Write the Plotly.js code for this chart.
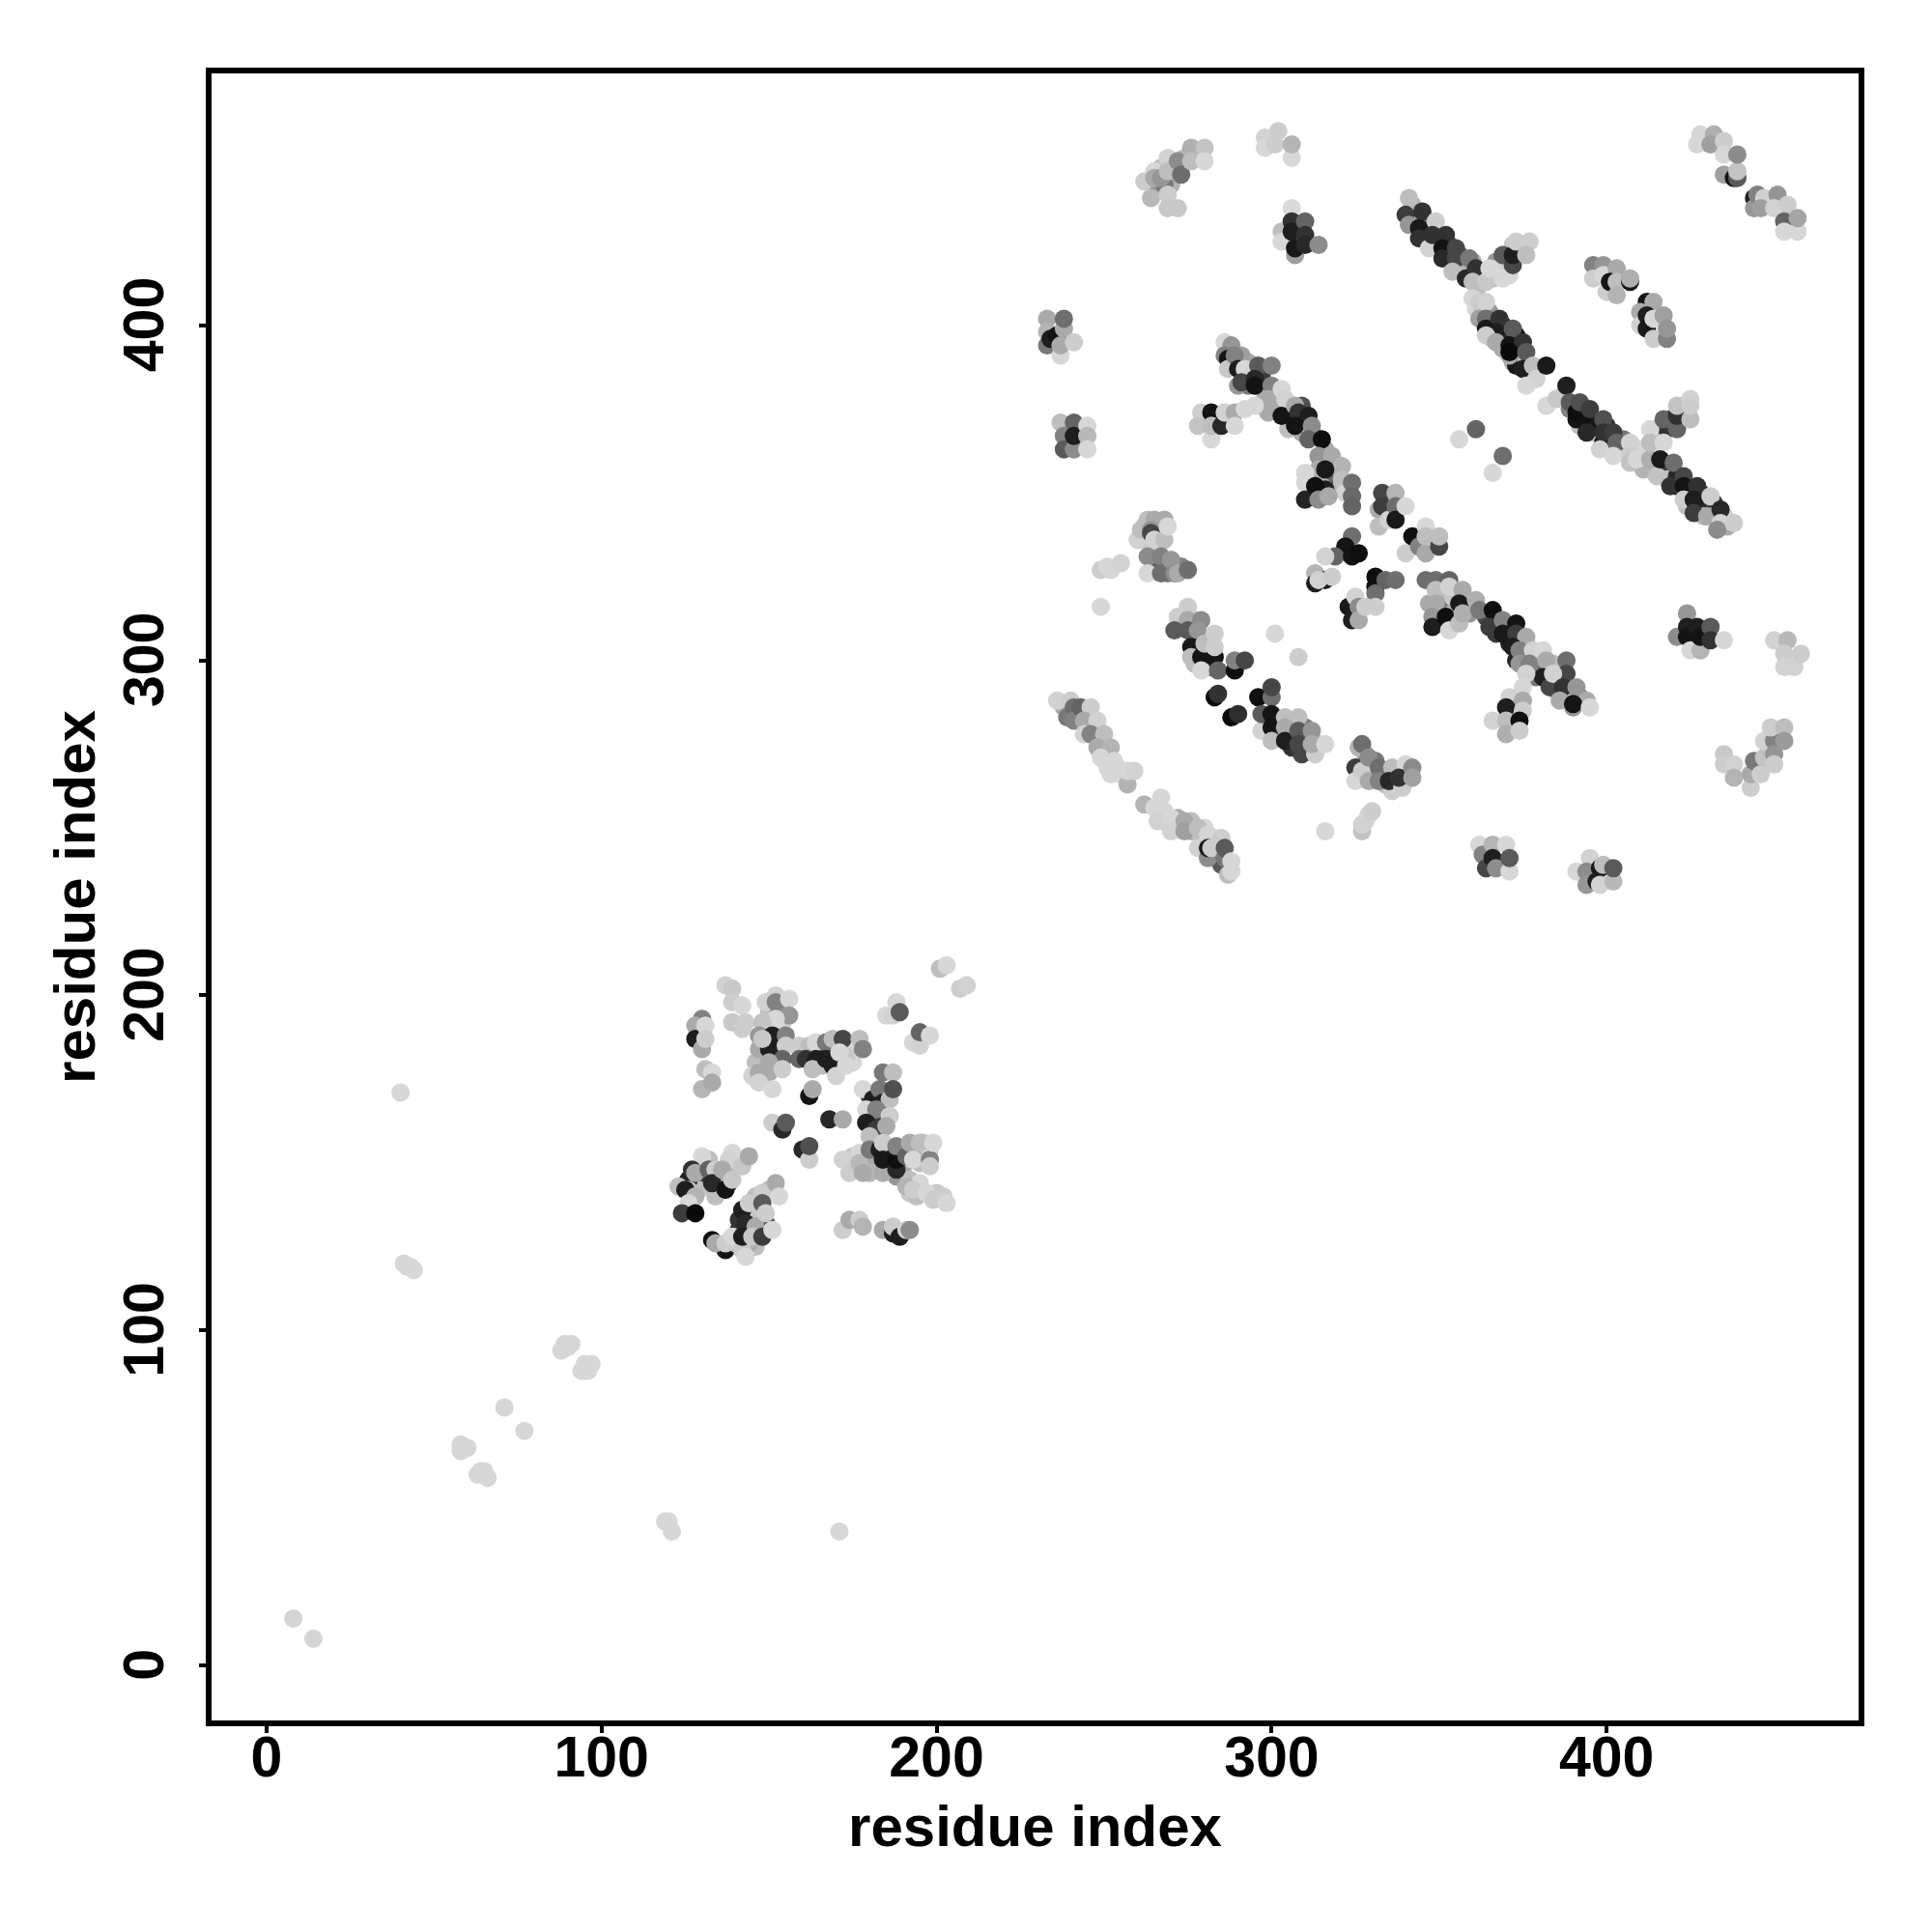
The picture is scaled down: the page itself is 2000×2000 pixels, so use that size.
<!DOCTYPE html>
<html><head><meta charset="utf-8">
<script src="https://cdn.plot.ly/plotly-3.0.1.min.js"></script>
<style>html,body{margin:0;padding:0;background:#fff}</style></head><body>
<div id="chart" style="width:2000px;height:2000px"></div>
<script>
// each contact: [residue x, residue y, shade level]
const under1=[[342,436,180],[343,432,170],[346,431,120],[346,428,170],[349,428,160],[350,425,120],[349,424,190],[353,424,100],[353,421,170],[356,421,90],[357,418,120],[360,419,170],[357,416,180],[361,414,90],[363,416,190],[362,412,190],[366,414,190],[366,416,215],[367,419,150],[370,417,120],[370,420,100],[368,417,210],[371,415,215],[374,422,180],[374,424,210],[372,424,200]];
const under2=[[361,405,215],[363,404,190],[365,404,150],[366,400,60],[366,396,180],[369,400,30],[369,396,25],[370,398,40],[373,397,20],[373,393,15],[369,393,170],[374,392,60],[372,389,180],[373,388,25],[376,389,200],[379,386,215],[377,385,215]];
const under3=[[387,379,190],[389,375,130],[393,374,60],[392,370,190],[396,372,30],[393,372,15],[396,368,190],[397,370,25],[400,370,40],[401,365,30],[403,363,190],[405,366,120],[405,362,210],[410,363,215],[411,357,180],[414,358,180],[414,362,215],[418,357,60],[418,354,190],[421,355,40],[421,352,30],[425,350,30],[424,346,190],[428,350,50],[428,346,40],[429,343,190],[432,347,60],[432,343,200],[435,343,190],[436,340,170],[436,342,210],[415,369,190],[418,369,50],[419,372,70],[423,373,60],[423,376,190]];
const underF=[[288,388,190],[292,385,150],[293,389,170],[293,382,120],[297,385,60],[298,380,170],[297,376,180],[301,379,100],[302,376,170],[305,372,20],[309,376,80],[305,369,190],[309,371,30],[312,368,90],[309,368,170],[316,363,170],[315,359,140],[319,358,190],[319,354,170],[317,352,180],[322,351,190],[316,354,100],[312,352,160],[315,352,180],[312,349,170],[316,351,30]];
const underO=[[351,320,170],[351,316,120],[351,311,30],[354,319,200],[354,314,180],[347,317,170],[358,317,190],[359,314,150],[364,313,70],[367,311,30],[367,308,60],[371,309,35],[371,305,30],[373,305,60],[375,302,120],[376,305,200],[376,300,170],[379,300,170],[380,298,190],[382,297,100],[379,295,120],[384,299,190],[385,294,60],[383,294,40],[388,290,120],[389,289,190],[392,289,120],[385,291,170]];
const underMid=[[301,282,190],[302,278,170],[306,281,130],[306,278,100],[306,274,50],[310,280,120],[310,274,60],[314,275,190],[310,277,170],[277,312,190],[277,307,100],[274,310,180],[281,306,190],[278,305,30],[281,302,25],[282,298,60],[277,299,190],[328,272,170],[328,269,120],[331,266,90],[334,266,190],[334,263,190],[337,263,190],[337,267,60],[340,264,190],[328,266,210],[331,270,120]];
const underLow=[[238,286,170],[239,283,120],[243,284,80],[246,282,120],[247,280,200],[250,275,170],[251,272,215],[251,268,215],[254,268,215],[255,266,215],[253,267,210],[268,255,215],[268,252,210],[272,250,180],[272,253,170],[276,249,170],[276,252,190],[279,247,190],[280,250,215],[283,247,215],[283,243,50],[283,241,170],[285,239,90],[285,243,40],[267,447,190],[270,442,180],[271,447,150],[274,450,190],[266,441,150],[268,442,120],[262,340,180],[262,336,200],[263,342,190],[266,338,190],[266,333,190],[266,328,100],[269,329,100],[269,326,120],[273,328,130],[265,328,100]];
const underSmall=[[130,147,60],[131,144,50],[135,143,30],[135,146,60],[138,144,50],[129,142,190],[137,147,170],[140,149,190],[132,151,190],[126,145,30],[126,142,190],[134,140,190],[137,124,20],[141,130,40],[141,133,50],[144,134,40],[145,136,200],[146,140,190],[150,142,190],[149,132,60],[146,125,190],[140,126,190],[144,126,170],[129,189,200],[130,186,170],[150,195,190],[153,196,150],[154,192,210],[149,190,190],[152,185,30],[153,183,80],[149,186,40],[148,180,170],[149,178,190],[146,180,190],[145,176,210]];
const underBand=[[160,183,70],[163,183,60],[166,183,60],[168,184,40],[170,185,60],[165,180,190],[171,180,60],[170,182,30],[166,179,190],[174,183,215],[175,180,215],[173,182,200],[180,170,60],[182,171,30],[183,170,40],[180,165,170],[181,163,30],[184,163,60],[183,158,170],[178,152,170],[181,150,170],[183,150,60],[186,150,40],[186,153,30],[180,149,170],[190,149,170],[176,148,190],[175,152,200],[188,146,150],[180,147,180],[195,153,170],[196,156,200],[198,154,215],[192,141,200],[194,140,190],[192,145,190],[195,144,215],[200,141,200],[197,150,190],[195,150,190]];
const lowSingles=[[8,14,212],[14,8,212],[40,171,215],[41,120,215],[42,119,215],[43,119,215],[44,118,215],[88,94,215],[89,95,215],[89,96,215],[90,95,215],[91,96,215],[94,88,215],[95,88,215],[96,88,215],[95,90,215],[96,89,215],[97,90,215],[71,77,215],[77,70,215],[58,66,215],[58,64,215],[58,65,215],[60,65,215],[63,57,215],[64,58,215],[65,57,215],[65,58,215],[66,56,215],[119,43,215],[120,43,215],[121,40,215],[171,40,215]];
const BA=[[201,208,190],[203,209,215],[207,202,205],[209,203,210]];
const BB=[[185,194,215],[188,198,215],[187,194,210],[189,195,90],[193,186,215],[195,185,210],[195,189,100],[198,188,215]];
const BC=[[137,203,210],[139,202,200],[139,198,205],[139,192,200],[142,197,215],[143,192,205],[142,190,205]];
const BD=[[130,193,130],[128,191,170],[128,187,30],[131,191,215],[130,184,170],[131,187,205],[131,178,190],[133,177,215],[130,172,180],[133,174,170]];
const BE=[[149,198,210],[152,200,210],[152,198,130],[156,199,215],[156,194,150],[152,193,215],[148,192,195],[147,188,150],[147,184,170],[151,188,30],[155,188,130],[150,184,30],[155,185,205],[154,181,100],[150,180,170],[148,187,200],[147,177,170],[150,177,170],[154,178,205],[147,174,210],[151,172,215]];
const BF=[[159,185,205],[159,181,100],[162,185,190],[164,186,215],[161,181,50],[164,181,30],[163,178,190],[167,186,120],[169,187,190],[167,181,30],[169,179,30],[170,176,210],[172,187,70],[171,183,215],[173,179,215],[177,187,190],[178,184,130]];
const BG=[[162,170,20],[163,172,170],[168,163,40],[172,163,170],[151,162,205],[154,160,40],[155,162,90],[160,154,40],[162,151,205],[162,155,80]];
const BH=[[178,172,215],[181,169,30],[184,177,120],[187,177,190],[183,172,120],[184,168,30],[186,169,190],[187,172,80],[179,166,215],[182,166,130],[179,162,30],[182,160,60],[186,164,205],[185,161,170],[180,158,190]];
const BI=[[172,151,210],[174,147,205],[177,153,215],[177,150,185],[178,147,170],[180,154,120],[184,147,170],[183,154,30],[184,156,205],[184,151,25],[188,148,40],[188,151,15],[188,155,130],[191,152,100]];
const BJ=[[192,156,170],[195,156,190],[193,151,215],[198,151,130],[198,149,205],[199,156,215],[191,143,180],[193,142,205],[197,141,215],[199,139,205],[202,140,205],[203,138,215]];
const BK=[[172,130,205],[174,133,170],[177,133,205],[178,131,180],[184,130,170],[187,129,30],[187,131,205],[189,128,30],[191,130,210],[192,130,140]];
const BL=[[130,152,215],[139,153,215],[138,151,210],[142,149,200],[144,152,170],[127,148,50],[123,143,190],[125,142,30],[128,147,170],[128,140,180],[132,148,100],[134,148,205],[133,144,40],[137,142,20],[136,148,170],[139,145,200],[126,138,215],[124,135,60],[128,135,10]];
const BM=[[133,127,15],[134,126,170],[137,126,205],[139,128,215],[142,124,200],[143,122,215],[142,136,30],[143,132,40],[142,128,30],[144,138,205],[146,131,170],[145,128,200],[148,141,205],[148,138,90],[149,135,205],[148,128,60],[152,144,170],[153,140,215],[151,130,215]];
const A=[[262,443,205],[265,446,215],[264,438,185],[269,439,205],[269,435,200],[272,435,200],[265,444,170],[267,444,150],[269,450,210],[269,446,190],[272,449,140],[273,445,110],[276,453,175],[280,453,195],[276,449,190],[280,449,215]];
const B=[[298,456,210],[298,453,215],[302,458,205],[301,454,205],[306,450,215],[306,454,180]];
const C=[[306,435,218],[303,428,190],[303,425,215],[306,431,50],[306,428,30],[307,421,160],[307,423,25],[310,431,100],[310,427,50],[310,424,40],[314,424,140]];
const D=[[233,402,170],[233,398,180],[233,394,120],[234,396,30],[237,391,215],[236,397,20],[238,399,170],[237,394,170],[238,402,110],[241,395,205]];
const E=[[237,371,190],[238,367,130],[238,363,90],[241,371,100],[241,363,140],[241,367,30],[245,370,215],[245,367,185],[245,363,215]];
const F=[[286,395,215],[288,394,150],[286,391,130],[287,390,20],[287,387,200],[291,391,160],[289,391,130],[290,387,30],[292,387,215],[296,388,90],[300,388,130],[290,382,150],[291,383,70],[295,384,40],[295,382,20],[300,382,130],[299,378,170],[303,381,215],[304,378,210],[299,374,170],[303,373,20],[307,376,170],[308,374,50],[311,373,30],[307,370,20],[312,370,140],[311,366,100],[315,366,15],[314,361,150],[318,361,170],[321,358,180],[314,357,170],[316,357,25],[321,354,190],[322,350,210],[324,353,110],[324,349,105],[324,346,100]];
const G=[[279,374,205],[278,370,195],[282,366,215],[282,374,20],[282,370,190],[285,370,40],[286,374,210],[289,374,170],[289,370,215],[292,375,215],[295,376,215]];
const H=[[310,356,215],[310,353,215],[310,348,35],[313,352,15],[314,348,140],[317,349,170]];
const I=[[333,350,70],[337,350,180],[332,345,170],[333,346,60],[332,340,190],[335,342,210],[337,346,110],[337,342,25],[340,346,215]];
const J=[[324,337,110],[322,334,20],[319,331,100],[316,331,210],[324,331,20],[326,332,15],[313,326,180],[313,323,30],[316,324,30],[314,324,210],[318,325,205]];
const K=[[331,325,15],[331,322,15],[331,320,110],[334,324,100],[337,324,110]];
const M=[[323,316,25],[324,312,30],[325,319,210],[326,316,140],[326,312,170],[328,316,205],[331,316,205]];
const N=[[340,332,205],[342,337,15],[344,334,130],[346,340,215],[346,332,170],[346,337,190],[350,334,70],[350,337,190]];
const O=[[346,324,110],[349,324,110],[353,324,100],[349,321,190],[349,317,170],[348,313,150],[348,310,30],[352,313,15],[353,309,215],[353,322,210],[357,321,170],[356,317,25],[356,311,190],[357,314,175],[361,318,175],[362,315,120],[366,315,15],[365,310,60],[369,312,130],[369,308,25],[373,311,20],[373,308,60],[376,307,170],[372,304,30],[373,300,35],[374,303,130],[374,299,150],[378,303,210],[381,303,215],[377,299,130],[382,300,170],[381,295,30],[383,292,70],[388,300,110],[388,296,70],[384,296,210],[387,292,50],[391,292,150],[386,288,170],[394,288,170],[390,286,150],[390,287,20],[395,286,215]];
const P=[[376,296,210],[375,292,215],[371,289,210],[375,288,170],[370,286,30],[375,285,205],[366,282,210],[370,282,190],[374,282,15],[370,278,175],[374,279,205]];
const Q=[[424,314,150],[421,307,140],[424,310,30],[424,307,20],[425,303,215],[427,310,30],[428,303,180],[428,307,20],[431,310,90],[431,306,50],[435,306,215]];
const R=[[450,306,210],[454,306,185],[453,302,205],[453,298,210],[456,298,210],[458,302,205]];
const S=[[435,272,200],[435,269,205],[438,269,210],[438,265,180],[443,262,205],[443,266,170],[444,270,120],[446,266,205],[447,271,195],[447,276,210],[450,276,130],[450,272,150],[450,269,205],[449,280,205],[453,280,190],[453,276,155]];
const T=[[362,245,215],[363,242,130],[364,238,70],[366,245,180],[370,245,215],[366,241,30],[367,238,140],[371,237,215],[371,241,90]];
const U=[[395,241,210],[391,237,215],[394,237,140],[394,233,150],[398,238,25],[397,234,30],[399,239,190],[398,233,210],[402,234,185],[402,238,90]];
const V=[[428,457,215],[427,454,215],[432,457,175],[431,454,160],[435,455,205],[435,445,160],[435,451,215],[438,444,20],[439,444,90],[439,446,195],[439,451,140]];
const W=[[444,438,30],[444,435,150],[445,439,130],[447,438,210],[446,435,160],[451,439,150],[450,435,210],[454,436,205],[453,431,100],[453,428,215],[457,428,215],[457,432,165]];
const X1=[[341,438,190],[340,433,60],[341,430,150],[345,434,50],[344,429,25],[344,426,50],[349,431,205],[347,423,210],[348,427,50],[352,427,50],[351,423,20],[351,420,40],[355,423,70],[355,420,70],[354,416,190],[359,420,120],[358,414,40],[361,417,50],[360,413,190],[364,413,200],[365,417,215],[369,421,90],[369,414,215],[372,418,70],[372,421,30],[373,425,205],[377,425,205],[376,421,190]];
const X2=[[360,408,215],[362,407,205],[364,407,210],[362,402,160],[364,402,110],[364,399,25],[368,402,50],[367,398,30],[364,397,205],[372,399,90],[367,395,170],[371,394,20],[375,395,50],[371,391,170],[371,392,10],[376,392,90],[375,387,30],[378,388,190],[379,384,210],[382,388,25],[376,382,215]];
const X3=[[382,376,215],[385,378,200],[388,382,30],[389,377,90],[391,372,20],[391,374,15],[392,377,80],[395,375,60],[399,372,80],[394,368,40],[399,365,20],[399,368,50],[402,368,60],[398,363,210],[403,365,100],[402,361,215],[407,365,210],[407,361,205],[407,359,195],[409,360,215],[413,360,175],[413,369,215],[413,365,190],[417,372,100],[421,369,100],[421,373,50],[421,376,195],[425,372,190],[425,378,210],[425,376,205],[417,365,215],[415,355,195],[416,360,25],[420,359,110],[419,352,50],[423,355,70],[423,352,20],[423,348,205],[427,352,50],[426,348,30],[426,344,60],[431,349,205],[430,343,170],[434,345,40],[434,341,210],[433,339,140],[438,341,205]];
const Y=[[356,366,215],[361,369,100],[366,356,215],[369,361,110]];
const Z1=[[396,418,130],[396,414,205],[399,418,150],[400,410,205],[399,415,215],[403,417,170],[401,413,20],[403,413,190],[403,409,180],[407,413,25],[407,414,175]];
const Z2=[[412,407,20],[414,407,170],[410,404,170],[410,400,210],[412,403,30],[412,399,25],[414,402,215],[414,396,205],[417,403,160],[418,396,130],[418,399,150]];
const AA=[[260,336,210],[261,339,190],[265,342,170],[268,342,170],[264,339,150],[264,338,70],[265,336,210],[268,336,190],[269,340,215]];
const AB=[[263,331,140],[263,326,215],[267,331,130],[267,326,110],[270,330,150],[271,326,140],[272,326,170],[275,327,110]];
const AC=[[249,327,205],[251,328,215],[252,327,215],[255,329,210],[249,316,215]];
const AD=[[275,316,205],[272,313,205],[275,312,170],[279,312,140],[271,309,90],[275,309,90],[278,309,150],[276,304,25],[276,301,190],[279,301,20],[283,301,20],[279,297,215],[284,297,100],[280,305,190],[283,308,205],[283,304,205],[289,297,15],[289,300,130],[292,300,70],[283,289,10],[284,290,50],[288,283,10],[290,284,45],[296,289,15],[300,289,110],[300,292,70],[301,308,215],[308,301,205]];
const AE=[[297,279,210],[297,284,90],[300,284,20],[300,280,20],[300,276,190],[304,283,190],[308,283,190],[304,280,170],[304,276,30],[308,279,90],[308,275,70],[309,272,70],[313,272,205],[312,279,150],[312,275,170],[316,275,215]];
const AF=[[326,274,180],[325,268,60],[325,264,215],[327,275,110],[327,267,205],[329,271,140],[329,264,170],[332,268,110],[332,264,130],[336,268,190],[336,261,205],[335,264,40],[339,262,205],[340,269,215],[338,265,50],[342,268,140],[342,265,160]];
const AG=[[327,249,195],[327,251,210],[328,252,210],[329,254,210],[330,255,205],[316,249,215]];
const AH=[[236,288,210],[240,288,205],[241,286,110],[241,282,130],[243,286,100],[246,286,205],[244,282,170],[248,282,210],[244,278,210],[246,278,130],[250,278,190],[248,274,170],[252,274,180],[249,271,215],[253,270,215],[252,266,215],[257,263,180],[257,267,215],[259,267,210]];
const AI=[[262,257,180],[267,259,215],[265,256,215],[266,252,210],[270,253,215],[270,249,210],[274,252,170],[274,249,160],[278,250,190],[278,244,210],[281,248,215],[285,247,205],[281,241,140],[281,244,25],[282,244,205],[286,241,120],[286,244,90],[287,236,190],[288,240,215],[288,237,215]];

const clusters=[under1,under2,under3,underF,underO,underMid,underLow,underSmall,underBand,lowSingles,BA,BB,BC,BD,BE,BF,BG,BH,BI,BJ,BK,BL,BM,A,B,C,D,E,F,G,H,I,J,K,M,N,O,P,Q,R,S,T,U,V,W,X1,X2,X3,Y,Z1,Z2,AA,AB,AC,AD,AE,AF,AG,AH,AI];
const contacts=clusters.flat();
const residueX=contacts.map(p=>p[0]);
const residueY=contacts.map(p=>p[1]);
const shade=contacts.map(p=>p[2]);
const axisTicks=[0,100,200,300,400];
const axisTitle='residue index';
const family='"Liberation Sans",Arial,sans-serif';
const axisBase={range:[-16.4,475.2],autorange:false,tickmode:'array',tickvals:axisTicks,ticktext:axisTicks.map(String),
 showgrid:false,zeroline:false,showline:true,mirror:true,linewidth:6,linecolor:'#000',ticks:'outside',ticklen:7,tickwidth:4,tickcolor:'#000',
 tickfont:{family:family,size:59,color:'#000',weight:'bold'}};
Plotly.newPlot('chart',[{type:'scatter',mode:'markers',x:residueX,y:residueY,
 marker:{size:19,color:shade,cmin:0,cmax:255,colorscale:[[0,'rgb(0,0,0)'],[1,'rgb(255,255,255)']],showscale:false,line:{width:0}},hoverinfo:'skip'}],
{width:2000,height:2000,paper_bgcolor:'#fff',plot_bgcolor:'#fff',showlegend:false,
 margin:{l:219,r:76,t:76,b:219,autoexpand:false},
 xaxis:Object.assign({},axisBase,{ticklabelstandoff:-26,title:{text:axisTitle,standoff:20,font:{family:family,size:60,color:'#000',weight:'bold'}}}),
 yaxis:Object.assign({},axisBase,{tickangle:-90,ticklabelstandoff:13,ticklabelshift:8,title:{text:axisTitle,standoff:0,font:{family:family,size:60,color:'#000',weight:'bold'}}})
},{displayModeBar:false,staticPlot:true});
</script></body></html>
